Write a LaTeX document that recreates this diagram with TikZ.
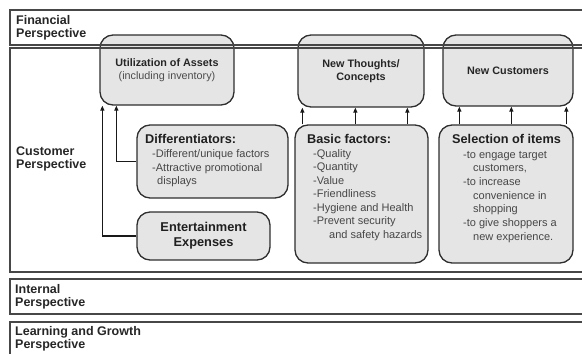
\documentclass[tikz,border=0pt]{standalone}
\usepackage{fontspec}
\setmainfont{Liberation Sans}
\usetikzlibrary{arrows.meta,calc}
\begin{document}
\begin{tikzpicture}[x=1pt,y=-1pt,
  band/.style={draw=black!72, line width=1.4pt},
  box/.style={draw=black!82, line width=1.3pt, fill=gray!20, rounded corners=13pt, inner sep=0pt},
  bandlabel/.style={font=\bfseries\fontsize{12.5}{13}\selectfont, text=black!85, anchor=base west, inner sep=0pt},
  boxtitle/.style={font=\bfseries\fontsize{10.8}{13.5}\selectfont, text=black!85, align=center},
  bigtitle/.style={font=\bfseries\fontsize{12.8}{15}\selectfont, text=black!88, align=center},
  heading/.style={font=\bfseries\fontsize{12.7}{15}\selectfont, text=black!88, anchor=base west, inner sep=0pt},
  item/.style={font=\fontsize{11}{13}\selectfont, text=black!72, anchor=base west, inner sep=0pt},
  arr/.style={-{Triangle[length=5pt,width=4pt]}, line width=1.2pt, draw=black!90},
]
\useasboundingbox (0,0) rectangle (582,354);
\clip (0,0) rectangle (582,354);

% boxes
\node[box, minimum width=134pt, minimum height=70pt, boxtitle] (util) at (167,70)
  {Utilization of Assets\\{\mdseries\color{black!70}(including inventory)}};
\node[box, minimum width=126pt, minimum height=72pt, boxtitle] (thoughts) at (361,71)
  {New Thoughts/\\Concepts};
\node[box, minimum width=130pt, minimum height=71pt, boxtitle] (newcust) at (508,70.5)
  {New Customers};
\node[box, minimum width=151pt, minimum height=73pt] (diff) at (212.5,161.5) {};
\node[box, minimum width=133pt, minimum height=48pt, bigtitle] (ent) at (203.5,236)
  {Entertainment\\Expenses};
\node[box, minimum width=133pt, minimum height=138pt] (basic) at (361.5,194) {};
\node[box, minimum width=134pt, minimum height=138pt] (sel) at (506,194) {};

% bands
\draw[band] (10,10) rectangle (620,45);
\draw[band] (10,48) rectangle (620,272);
\draw[band] (10,279) rectangle (620,314);
\draw[band] (10,322) rectangle (620,380);

% band labels
\node[bandlabel] (fin1) at (16,24) {Financial};
\node[bandlabel] (fin2) at (16,37.5) {Perspective};
\node[bandlabel] (cus1) at (16,155) {Customer};
\node[bandlabel] (cus2) at (16,168.5) {Perspective};
\node[bandlabel] (int1) at (15,293) {Internal};
\node[bandlabel] (int2) at (15,306.5) {Perspective};
\node[bandlabel] (lea1) at (15,335) {Learning and Growth};
\node[bandlabel] (lea2) at (15,348.5) {Perspective};

% differentiators text
\node[heading] (diffh) at (145,143) {Differentiators:};
\node[item] (d1) at (152,157.5) {-Different/unique factors};
\node[item] (d2) at (152,171) {-Attractive promotional};
\node[item] (d3) at (157,184.5) {displays};

% basic factors text
\node[heading] (basich) at (307,143) {Basic factors:};
\node[item] (b1) at (313,157) {-Quality};
\node[item] (b2) at (313,170.5) {-Quantity};
\node[item] (b3) at (313,184) {-Value};
\node[item] (b4) at (313,197.5) {-Friendliness};
\node[item] (b5) at (313,211) {-Hygiene and Health};
\node[item] (b6) at (313,224.5) {-Prevent security};
\node[item] (b7) at (329,238) {and safety hazards};

% selection text
\node[heading] (selh) at (452,143) {Selection of items};
\node[item] (s1) at (463,158) {-to engage target};
\node[item] (s2) at (473,171.7) {customers,};
\node[item] (s3) at (463,185.4) {-to increase};
\node[item] (s4) at (473,199.1) {convenience in};
\node[item] (s5) at (473,212.8) {shopping};
\node[item] (s6) at (463,226.5) {-to give shoppers a};
\node[item] (s7) at (473,240.2) {new experience.};

% connectors to utilization
\draw[arr] (ent.west) -| ($(util.south west)+(3,0)$);
\draw[arr] (diff.west) -| ($(util.south west)+(17,0)$);

% short arrows
\coordinate (ba1) at ($(basic.north west)+(8,0)$);
\coordinate (ba2) at ($(basic.north west)+(61,0)$);
\coordinate (ba3) at ($(basic.north west)+(113,0)$);
\draw[arr] (ba1) -- (ba1 |- thoughts.south);
\draw[arr] (ba2) -- (ba2 |- thoughts.south);
\draw[arr] (ba3) -- (ba3 |- thoughts.south);
\coordinate (sa1) at ($(sel.north west)+(21,0)$);
\coordinate (sa2) at ($(sel.north west)+(73,0)$);
\coordinate (sa3) at ($(sel.north west)+(128,0)$);
\draw[arr] (sa1) -- (sa1 |- newcust.south);
\draw[arr] (sa2) -- (sa2 |- newcust.south);
\draw[arr] (sa3) -- (sa3 |- newcust.south);
\end{tikzpicture}
\end{document}
